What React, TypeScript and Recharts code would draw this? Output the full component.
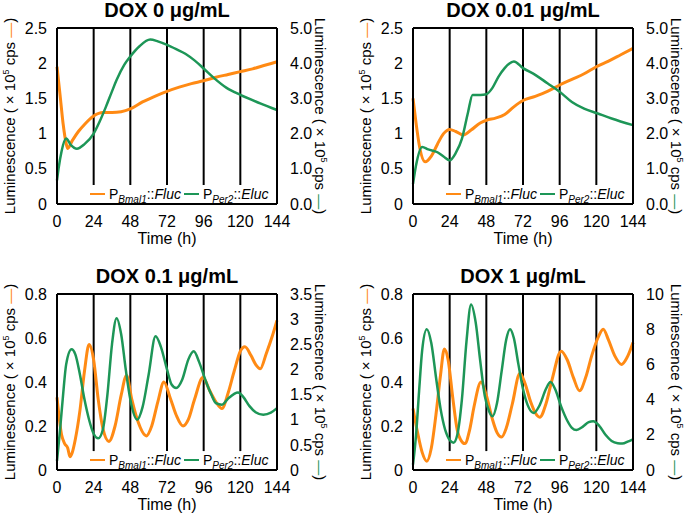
import { Legend, Line, LineChart, ReferenceLine, XAxis, YAxis } from 'recharts'

const ORANGE = '#ff8a14'
const GREEN = '#1d9657'
const FONT = '"Liberation Sans", Arial, sans-serif'

const hourTicks = [0, 24, 48, 72, 96, 120, 144]
const dayMarks = [24, 48, 72, 96, 120]

// DOX 0 µg/mL
const dox0BmalTime = [0, 2, 4, 6, 7, 10, 14, 18, 24, 30, 36, 42, 48, 56, 64, 72, 80, 88, 96, 104, 112, 120, 128, 136, 144]
const dox0Bmal = [1.95, 1.55, 1.14, 0.86, 0.79, 0.9, 1.03, 1.13, 1.25, 1.3, 1.3, 1.31, 1.35, 1.45, 1.53, 1.6, 1.66, 1.71, 1.75, 1.8, 1.84, 1.88, 1.92, 1.97, 2.02]
const dox0PerTime = [0, 1, 3, 6, 9, 13, 18, 24, 28, 32, 36, 39, 44, 48, 54, 61, 66, 72, 78, 84, 90, 96, 103, 111, 120, 133, 144]
const dox0Per = [0.67, 1.0, 1.5, 1.86, 1.68, 1.57, 1.7, 2.0, 2.35, 2.76, 3.2, 3.52, 3.95, 4.19, 4.48, 4.67, 4.62, 4.52, 4.4, 4.27, 4.08, 3.85, 3.57, 3.3, 3.1, 2.86, 2.67]

// DOX 0.01 µg/mL
const dox001BmalTime = [0, 2, 4, 8, 12, 16, 20, 24, 28, 33, 38, 44, 48, 54, 60, 66, 72, 80, 88, 96, 104, 112, 120, 128, 136, 144]
const dox001Bmal = [1.5, 1.15, 0.85, 0.6, 0.68, 0.85, 1.0, 1.06, 1.03, 0.98, 1.05, 1.15, 1.19, 1.22, 1.27, 1.38, 1.47, 1.53, 1.6, 1.69, 1.77, 1.85, 1.95, 2.03, 2.12, 2.21]
const dox001PerTime = [0, 2, 6, 10, 16, 20, 24, 28, 32, 36, 39, 44, 48, 52, 56, 60, 66, 72, 80, 88, 96, 104, 112, 121, 130, 144]
const dox001Per = [0.57, 1.1, 1.62, 1.55, 1.47, 1.35, 1.24, 1.45, 1.85, 2.6, 3.1, 3.1, 3.12, 3.3, 3.62, 3.86, 4.05, 3.86, 3.67, 3.43, 3.19, 2.9, 2.71, 2.57, 2.43, 2.24]

// DOX 0.1 µg/mL
const dox01BmalTime = [0, 3, 5, 7, 8.5, 10, 12, 15, 18, 21, 24, 27, 30, 34, 38, 42, 45.5, 49, 53, 58.5, 62, 66, 70, 74, 78, 82.5, 86, 90, 95.5, 100, 104, 108, 112, 116, 120, 123, 127, 130, 133, 137, 141, 144]
const dox01Bmal = [0.33, 0.16, 0.12, 0.1, 0.06, 0.08, 0.14, 0.27, 0.45, 0.57, 0.5, 0.32, 0.19, 0.13, 0.2, 0.34, 0.43, 0.32, 0.22, 0.155, 0.2, 0.31, 0.4, 0.33, 0.25, 0.2, 0.23, 0.32, 0.42, 0.36, 0.31, 0.28, 0.35, 0.45, 0.54, 0.56, 0.52, 0.48, 0.46, 0.53, 0.61, 0.68]
const dox01PerTime = [0, 2, 4, 6, 9.5, 12, 15, 18, 21, 24, 27, 30, 33, 36, 39, 42, 45, 48, 52.5, 56, 60, 64.5, 68, 72, 75, 78, 82, 86, 89.5, 93, 97, 101, 104, 108, 112, 118.5, 122, 126, 130, 135, 140, 144]
const dox01Per = [0.18, 0.8, 1.5, 2.1, 2.4, 2.3, 1.9, 1.4, 1.0, 0.72, 0.63, 0.8, 1.5, 2.5, 3.02, 2.7, 2.0, 1.4, 1.0, 1.25, 1.9, 2.66, 2.45, 2.0, 1.7, 1.63, 1.8, 2.2, 2.36, 2.15, 1.8, 1.5, 1.33, 1.3, 1.42, 1.54, 1.45, 1.27, 1.15, 1.1, 1.14, 1.23]

// DOX 1 µg/mL
const dox1BmalTime = [0, 3, 6, 9, 12, 15, 18, 20.5, 23, 26, 29, 31, 34, 37, 40, 44.5, 48, 52, 55, 58, 61, 65, 70, 73, 77, 80, 83, 87, 91, 97, 101, 105, 109, 113, 117, 121, 124.5, 128, 132, 136.5, 140, 144]
const dox1Bmal = [0.28, 0.17, 0.08, 0.04, 0.1, 0.25, 0.43, 0.55, 0.5, 0.33, 0.18, 0.14, 0.12, 0.18, 0.29, 0.4, 0.34, 0.23, 0.17, 0.15, 0.19, 0.3, 0.44, 0.4, 0.31, 0.26, 0.24, 0.3, 0.41, 0.54, 0.5, 0.42, 0.36, 0.42, 0.52, 0.6, 0.64, 0.59, 0.52, 0.48, 0.51, 0.58]
const dox1PerTime = [0, 2, 4, 6, 9, 12, 15, 18, 21, 24, 26.5, 29, 32, 35, 38, 41, 44, 47, 50, 52, 55, 58, 61, 63.5, 66, 69, 72, 75, 79, 83, 87, 90, 93, 97, 101, 104, 107, 111, 115, 118, 122, 126, 130, 134, 137, 141, 144]
const dox1Per = [0.3, 2.0, 4.5, 6.8, 8.0, 7.2, 5.3, 3.5, 2.3, 1.7, 1.55, 2.0, 4.0, 7.3, 9.4, 8.4, 6.2, 4.2, 3.3, 3.05, 3.8, 5.6, 7.4, 8.0, 7.5, 6.0, 4.6, 3.7, 3.24, 3.7, 4.6, 5.0, 4.6, 3.6, 2.8, 2.4, 2.27, 2.45, 2.72, 2.77, 2.5, 2.0, 1.65, 1.52, 1.5, 1.63, 1.74]

const wideLeftTicks = [0, 0.5, 1, 1.5, 2, 2.5]
const wideRightTicks = [0, 1, 2, 3, 4, 5]
const narrowLeftTicks = [0, 0.2, 0.4, 0.6, 0.8]
const dox01RightTicks = [0, 0.5, 1, 1.5, 2, 2.5, 3, 3.5]
const dox1RightTicks = [0, 2, 4, 6, 8, 10]

function toPoints(time: number[], values: number[]) {
  return time.map((t, i) => ({ t, v: values[i] }))
}

function AxisTitle({ viewBox, side }: any) {
  const cy = viewBox.y + viewBox.height / 2
  const left = side === 'left'
  const x = left ? viewBox.x + 15 : viewBox.x + 38
  return (
    <text
      x={x}
      y={cy}
      transform={`rotate(${left ? -90 : 90}, ${x}, ${cy})`}
      textAnchor="middle"
      fontSize={15}
      fontFamily={FONT}
      fill="#000"
    >
      Luminescence ( × 10<tspan dy={-6} fontSize={9}>5</tspan>
      <tspan dy={6}> cps </tspan>
      <tspan fill={left ? ORANGE : GREEN}>—</tspan>)
    </text>
  )
}

function TimeTitle({ viewBox }: any) {
  return (
    <text
      x={viewBox.x + viewBox.width / 2}
      y={viewBox.y + 40}
      textAnchor="middle"
      fontSize={16}
      fontFamily={FONT}
      fill="#000"
    >
      Time (h)
    </text>
  )
}

function SeriesKey() {
  const sub = { fontSize: 10, fontStyle: 'italic', lineHeight: 0 } as const
  return (
    <div style={{ display: 'flex', alignItems: 'center', fontSize: 14, fontFamily: FONT, whiteSpace: 'nowrap', color: '#000' }}>
      <span style={{ display: 'inline-block', width: 15, height: 2, background: ORANGE, marginRight: 4 }} />
      <span>
        P<sub style={sub}>Bmal1</sub>::<i>Fluc</i>
      </span>
      <span style={{ display: 'inline-block', width: 15, height: 2, background: GREEN, margin: '0 4px 0 3px' }} />
      <span>
        P<sub style={sub}>Per2</sub>::<i>Eluc</i>
      </span>
    </div>
  )
}

interface PanelProps {
  title: string
  x: number
  y: number
  bmal: { t: number; v: number }[]
  per: { t: number; v: number }[]
  leftTicks: number[]
  rightTicks: number[]
  rightFormat: (v: number) => string
  markFloor: number
}

function Panel({ title, x, y, bmal, per, leftTicks, rightTicks, rightFormat, markFloor }: PanelProps) {
  const leftMax = leftTicks[leftTicks.length - 1]
  const rightMax = rightTicks[rightTicks.length - 1]
  const tickStyle = { fontSize: 16, fontFamily: FONT, fill: '#000' }
  return (
    <div style={{ position: 'absolute', left: x, top: y, width: 340, height: 252 }}>
      <div
        style={{
          position: 'absolute',
          left: 57,
          top: 0,
          width: 220,
          textAlign: 'center',
          fontFamily: FONT,
          fontWeight: 'bold',
          fontSize: 20,
          lineHeight: '21px',
          zIndex: 1,
        }}
      >
        {title}
      </div>
      <LineChart width={340} height={252} margin={{ top: 28, right: 11, bottom: 8, left: 0 }}>
        <XAxis
          dataKey="t"
          type="number"
          domain={[0, 144]}
          ticks={hourTicks}
          height={40}
          tickLine={false}
          tickSize={0}
          tickMargin={12}
          tick={tickStyle}
          axisLine={{ stroke: '#000', strokeWidth: 2 }}
          label={{ content: <TimeTitle /> }}
        />
        <YAxis
          yAxisId="left"
          type="number"
          domain={[0, leftMax]}
          ticks={leftTicks}
          width={57}
          tickLine={false}
          tickSize={0}
          tickMargin={10}
          tick={tickStyle}
          axisLine={{ stroke: '#000', strokeWidth: 2 }}
          label={{ content: <AxisTitle side="left" /> }}
        />
        <YAxis
          yAxisId="right"
          orientation="right"
          type="number"
          domain={[0, rightMax]}
          ticks={rightTicks}
          tickFormatter={rightFormat}
          width={52}
          tickLine={false}
          tickSize={0}
          tickMargin={13}
          tick={tickStyle}
          axisLine={{ stroke: '#000', strokeWidth: 2 }}
          label={{ content: <AxisTitle side="right" /> }}
        />
        <ReferenceLine yAxisId="left" y={leftMax} stroke="#000" strokeWidth={2} />
        {dayMarks.map((h) => (
          <ReferenceLine
            key={h}
            yAxisId="left"
            segment={[
              { x: h, y: markFloor },
              { x: h, y: leftMax },
            ]}
            stroke="#000"
            strokeWidth={2}
          />
        ))}
        <Line
          yAxisId="left"
          data={bmal}
          dataKey="v"
          type="monotone"
          stroke={ORANGE}
          strokeWidth={3}
          dot={false}
          isAnimationActive={false}
        />
        <Line
          yAxisId="right"
          data={per}
          dataKey="v"
          type="monotone"
          stroke={GREEN}
          strokeWidth={2.5}
          dot={false}
          isAnimationActive={false}
        />
        <Legend
          layout="horizontal"
          align="center"
          verticalAlign="middle"
          content={<SeriesKey />}
          wrapperStyle={{ left: 90, top: 186, width: 'auto', height: 'auto' }}
        />
      </LineChart>
    </div>
  )
}

const oneDecimal = (v: number) => v.toFixed(1)
const plain = (v: number) => String(v)

export default function App() {
  return (
    <div style={{ position: 'relative', width: 685, height: 518, background: '#fff', overflow: 'hidden' }}>
      <style>{'body { margin: 0; }'}</style>
      <Panel
        title="DOX 0 μg/mL"
        x={0}
        y={0}
        bmal={toPoints(dox0BmalTime, dox0Bmal)}
        per={toPoints(dox0PerTime, dox0Per)}
        leftTicks={wideLeftTicks}
        rightTicks={wideRightTicks}
        rightFormat={oneDecimal}
        markFloor={0.27}
      />
      <Panel
        title="DOX 0.01 μg/mL"
        x={356}
        y={0}
        bmal={toPoints(dox001BmalTime, dox001Bmal)}
        per={toPoints(dox001PerTime, dox001Per)}
        leftTicks={wideLeftTicks}
        rightTicks={wideRightTicks}
        rightFormat={oneDecimal}
        markFloor={0.27}
      />
      <Panel
        title="DOX 0.1 μg/mL"
        x={0}
        y={266}
        bmal={toPoints(dox01BmalTime, dox01Bmal)}
        per={toPoints(dox01PerTime, dox01Per)}
        leftTicks={narrowLeftTicks}
        rightTicks={dox01RightTicks}
        rightFormat={plain}
        markFloor={0.086}
      />
      <Panel
        title="DOX 1 μg/mL"
        x={356}
        y={266}
        bmal={toPoints(dox1BmalTime, dox1Bmal)}
        per={toPoints(dox1PerTime, dox1Per)}
        leftTicks={narrowLeftTicks}
        rightTicks={dox1RightTicks}
        rightFormat={plain}
        markFloor={0.086}
      />
    </div>
  )
}
